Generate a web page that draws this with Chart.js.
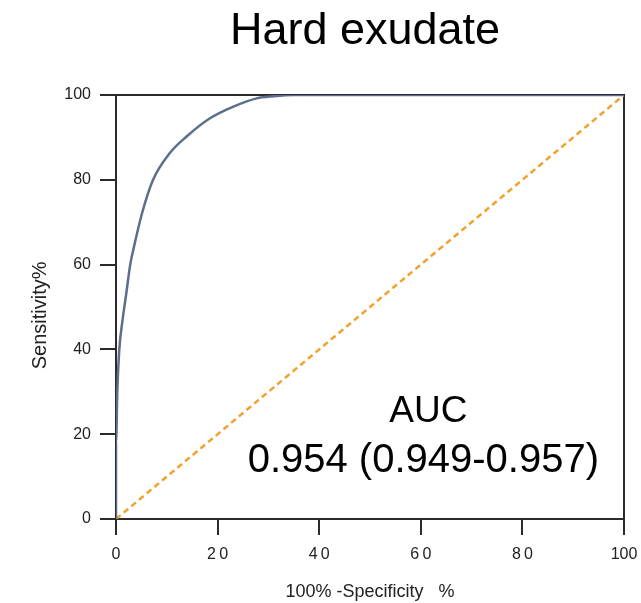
<!DOCTYPE html>
<html lang="en">

<head>
    <meta charset="UTF-8">
    <meta name="viewport" content="width=device-width, initial-scale=1.0">
    <title>Hard exudate</title>
    <script src="https://cdn.jsdelivr.net/npm/chart.js@4.4.1/dist/chart.umd.min.js"></script>
    <style>
        html, body { margin: 0; padding: 0; background: #fff; }
        #wrap { width: 641px; height: 603px; }
    </style>
</head>

<body>
    <div id="wrap"><canvas id="chart"></canvas></div>
    <script>
        // ROC curve (100% - specificity, sensitivity)
        var fprValues = [0, 0, 0.26, 0.65, 1.3, 2.0, 2.8, 3.5, 5.1, 7.3, 10.6, 13.9, 18.5, 23, 27.7, 31, 35, 100];
        var tprValues = [0, 18, 30, 40, 47, 53, 60, 64, 72, 80, 86.3, 90.2, 94.5, 97.2, 99.2, 99.7, 100, 100];
        // reference (chance) line
        var chanceX = [0, 100];
        var chanceY = [0, 100];
        var xTickLabels = ['0', '2\u20090', '4\u20090', '6\u20090', '8\u20090', '100'];
        var yTickLabels = ['0', '20', '40', '60', '80', '100'];
        var chartTitle = 'Hard exudate';
        var aucLines = ['AUC', '0.954 (0.949-0.957)'];

        var FONT = '"Liberation Sans", Arial, sans-serif';
        var AXIS = '#2b2b2b';

        function toPoints(xs, ys) {
            return xs.map(function (x, i) { return { x: x, y: ys[i] }; });
        }

        // title + AUC text, placed through the scales
        const textPlugin = {
            id: 'textPlugin',
            afterDraw(chart) {
                const ctx = chart.ctx;
                const xs = chart.scales.x, ys = chart.scales.y;
                ctx.save();
                ctx.fillStyle = '#000';
                ctx.textAlign = 'center';
                ctx.textBaseline = 'alphabetic';
                ctx.font = '45px ' + FONT;
                ctx.fillText(chartTitle, (xs.left + xs.right) / 2 - 5, 44);
                ctx.font = '37px ' + FONT;
                ctx.fillText(aucLines[0], xs.getPixelForValue(61.5), ys.getPixelForValue(22.9));
                ctx.font = '40px ' + FONT;
                ctx.fillText(aucLines[1], xs.getPixelForValue(60.5), ys.getPixelForValue(11.1));
                ctx.restore();
            }
        };

        function boxAxis(pos) {
            return {
                type: 'linear', position: pos, min: 0, max: 100,
                ticks: { display: false },
                grid: { display: false, drawTicks: false },
                border: { display: true, color: AXIS, width: 2 },
                afterFit: function (s) {
                    if (pos === 'top') s.height = 0; else s.width = 0;
                    s.paddingLeft = s.paddingRight = s.paddingTop = s.paddingBottom = 0;
                }
            };
        }

        const ctx = document.getElementById('chart').getContext('2d');
        const myChart = new Chart(ctx, {
            type: 'scatter',
            data: {
                datasets: [{
                    label: 'ROC',
                    data: toPoints(fprValues, tprValues),
                    showLine: true,
                    fill: false,
                    pointRadius: 0,
                    borderColor: '#5b6e8c',
                    borderWidth: 2.5,
                    cubicInterpolationMode: 'monotone',
                    order: 1
                }, {
                    label: 'Chance',
                    data: toPoints(chanceX, chanceY),
                    showLine: true,
                    fill: false,
                    pointRadius: 0,
                    borderColor: '#f0a22e',
                    borderWidth: 2.5,
                    borderDash: [6, 4],
                    order: 2
                }]
            },
            options: {
                responsive: true,
                maintainAspectRatio: false,
                animation: false,
                layout: { padding: { top: 95, right: 17, left: 0, bottom: 0 } },
                plugins: {
                    legend: { display: false },
                    tooltip: { enabled: false }
                },
                scales: {
                    x: {
                        type: 'linear', position: 'bottom', min: 0, max: 100,
                        ticks: {
                            stepSize: 20, padding: 10, color: '#222',
                            font: { family: FONT, size: 16 },
                            callback: function (v) { return xTickLabels[v / 20]; }
                        },
                        grid: { drawOnChartArea: false, drawTicks: true, tickLength: 16, tickColor: AXIS, lineWidth: 2 },
                        border: { display: true, color: AXIS, width: 2 },
                        title: {
                            display: true, text: '100% -Specificity   %', color: '#222',
                            font: { family: FONT, size: 18 }, padding: { top: 0, bottom: 0 }
                        },
                        afterFit: function (s) { s.height = 84; s.paddingLeft = 0; s.paddingRight = 0; }
                    },
                    y: {
                        type: 'linear', position: 'left', min: 0, max: 100,
                        ticks: {
                            stepSize: 20, padding: 9, color: '#222',
                            font: { family: FONT, size: 16 },
                            callback: function (v) { return yTickLabels[v / 20]; }
                        },
                        grid: { drawOnChartArea: false, drawTicks: true, tickLength: 16, tickColor: AXIS, lineWidth: 2 },
                        border: { display: true, color: AXIS, width: 2 },
                        title: {
                            display: true, text: 'Sensitivity%   ', color: '#222',
                            font: { family: FONT, size: 20 }, padding: { top: 28, bottom: 0 }
                        },
                        afterFit: function (s) { s.width = 116; s.paddingTop = 0; s.paddingBottom = 0; }
                    },
                    x2: boxAxis('top'),
                    y2: boxAxis('right')
                }
            },
            plugins: [textPlugin]
        });
    </script>
</body>

</html>
